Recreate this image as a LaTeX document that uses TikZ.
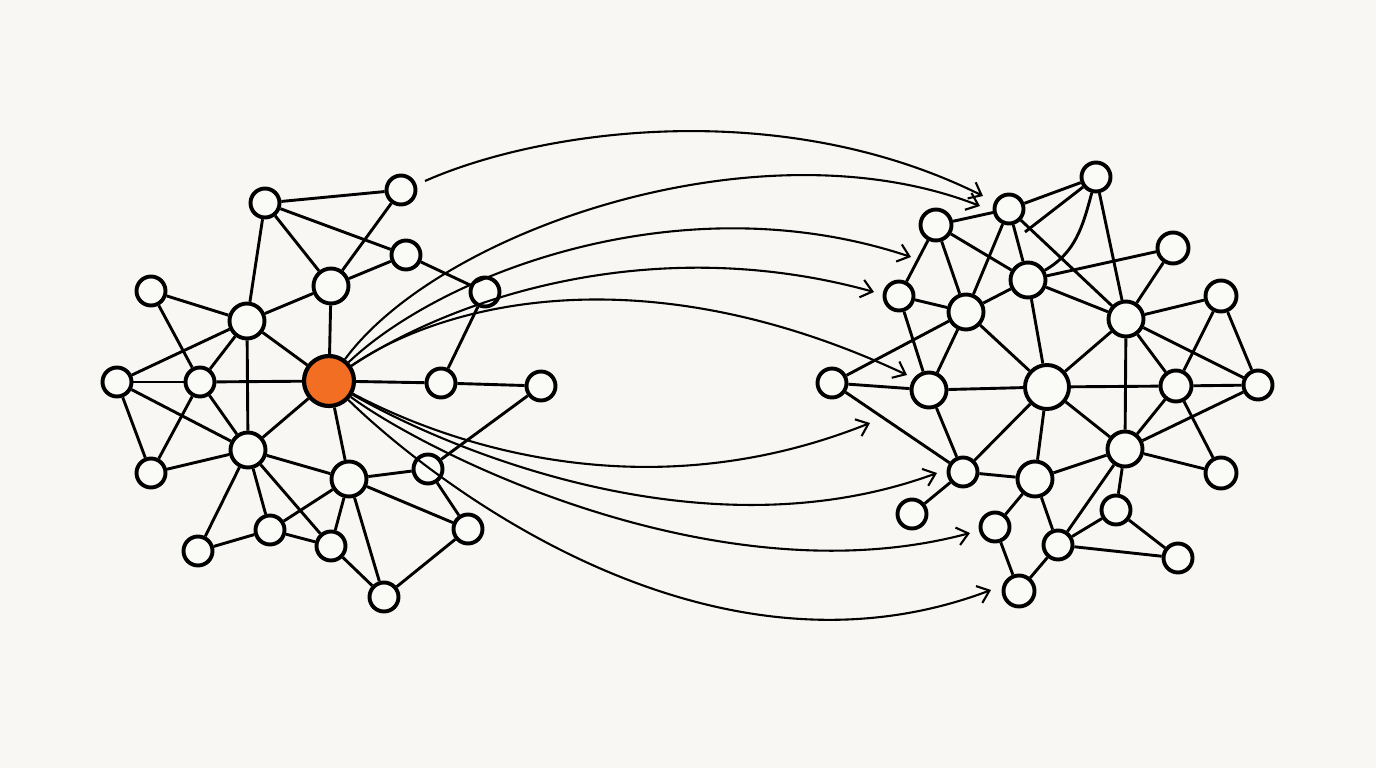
\documentclass[tikz,border=0pt]{standalone}
\usetikzlibrary{arrows.meta}
\definecolor{bgc}{HTML}{F8F7F3}
\definecolor{nfill}{HTML}{FAFAF7}
\definecolor{orng}{HTML}{F26E22}
\pgfdeclarelayer{back}
\pgfdeclarelayer{edges}
\pgfsetlayers{back,edges,main}
\begin{document}
\begin{tikzpicture}[x=1pt,y=-1pt,
  nd/.style={circle,draw=black,line width=3.9pt,fill=nfill,minimum size=29pt,inner sep=0pt},
  ndm/.style={nd,minimum size=31pt},
  ndl/.style={nd,minimum size=35pt},
  ndxl/.style={nd,minimum size=44pt},
  hub/.style={circle,draw=black,line width=4.2pt,fill=orng,minimum size=50pt,inner sep=0pt},
  edge/.style={line width=2.9pt,draw=black},
  flow/.style={line width=2.1pt,draw=black,-{Straight Barb[length=11pt,width=18pt,line width=2.1pt]}}]
\useasboundingbox (0,0) rectangle (1376,768);
\begin{pgfonlayer}{back}
  \fill[bgc] (0,0) rectangle (1376,768);
\end{pgfonlayer}
% ---------- left network ----------
\node[nd] (L1) at (265,203) {};
\node[nd] (L2) at (401,190) {};
\node[nd] (L3) at (406,255) {};
\node[ndl] (L4) at (331,286) {};
\node[nd] (L5) at (485,292) {};
\node[nd] (L6) at (151,291) {};
\node[ndl] (L7) at (247,321) {};
\node[nd] (L8) at (117,382) {};
\node[nd] (L9) at (200,382) {};
\node[hub] (C) at (329,381) {};
\node[nd] (L10) at (441,383) {};
\node[nd] (L11) at (541,386) {};
\node[nd] (L12) at (151,473) {};
\node[ndl] (L13) at (248,450) {};
\node[ndl] (L14) at (349,479) {};
\node[nd] (L15) at (428,469) {};
\node[nd] (L16) at (198,551) {};
\node[nd] (L17) at (270,530) {};
\node[nd] (L18) at (331,546) {};
\node[nd] (L19) at (468,529) {};
\node[nd] (L20) at (384,597) {};
% ---------- right network ----------
\node[nd] (R1) at (1096,177) {};
\node[nd] (R2) at (1009,209) {};
\node[ndm] (R3) at (936,225) {};
\node[ndm] (R4) at (1173,248) {};
\node[ndl] (R5) at (1028,280) {};
\node[nd] (R6) at (899,296) {};
\node[ndl] (R7) at (966,312) {};
\node[ndm] (R8) at (1221,296) {};
\node[ndl] (R9) at (1126,319) {};
\node[nd] (R10) at (832,383) {};
\node[ndl] (R11) at (929,390) {};
\node[ndxl] (R12) at (1047,387) {};
\node[ndm] (R13) at (1176,386) {};
\node[nd] (R14) at (1258,385) {};
\node[ndl] (R15) at (1125,449) {};
\node[nd] (R16) at (963,472) {};
\node[ndl] (R17) at (1035,479) {};
\node[ndm] (R18) at (1221,473) {};
\node[nd] (R19) at (912,514) {};
\node[nd] (R20) at (995,527) {};
\node[nd] (R21) at (1116,510) {};
\node[nd] (R22) at (1058,545) {};
\node[nd] (R23) at (1178,558) {};
\node[ndm] (R24) at (1019,591) {};
\coordinate (stub) at (1025,232);
% ---------- edges ----------
\begin{pgfonlayer}{edges}
\foreach \a/\b in {L1/L2,L1/L4,L1/L3,L1/L7,L2/L4,L4/L3,L3/L5,L4/L7,L4/C,
  L6/L7,L6/L9,L7/L8,L7/L9,L7/L13,L7/C,L8/L9,L8/L12,L8/L13,L9/C,L9/L12,L9/L13,
  L12/L13,L13/C,L13/L14,L13/L16,L13/L17,L13/L18,C/L10,L10/L5,L10/L11,L11/L15,
  C/L14,L14/L15,L14/L17,L14/L18,L14/L20,L14/L19,L15/L19,L16/L17,L17/L18,
  L18/L20,L19/L20}
  \draw[edge] (\a) -- (\b);
\foreach \a/\b in {R2/R1,R3/R2,R1/R9,R1/stub,R2/R7,R2/R5,R2/R9,R3/R6,R3/R7,R3/R5,
  R5/R4,R5/R7,R5/R9,R5/R12,R4/R9,R6/R7,R6/R11,R7/R10,R7/R11,R7/R12,R9/R8,
  R9/R12,R9/R13,R9/R14,R9/R15,R8/R13,R8/R14,R10/R11,R10/R16,R11/R12,R11/R16,
  R12/R13,R12/R15,R12/R16,R12/R17,R13/R14,R13/R15,R13/R18,R14/R15,R15/R18,
  R15/R17,R15/R21,R15/R22,R16/R17,R16/R19,R17/R20,R17/R22,R20/R24,R21/R22,
  R21/R23,R22/R23,R22/R24}
  \draw[edge] (\a) -- (\b);
\draw[edge] (R1) to[out=-105,in=30] (R5);
\end{pgfonlayer}
% ---------- flow arcs ----------
\coordinate (s1) at (425,181);
\coordinate (t1) at (983,196);
\coordinate (t2) at (980,206);
\coordinate (t3) at (911,257);
\coordinate (t4) at (874,292);
\coordinate (t5) at (907,375);
\coordinate (t6) at (870,423);
\coordinate (t7) at (937,473);
\coordinate (t8) at (970,533);
\coordinate (t9) at (991,590);
\draw[flow] (s1) .. controls (540,130) and (780,95) .. (t1);
\draw[flow] (C) .. controls (440,230) and (760,120) .. (t2);
\draw[flow] (C) .. controls (440,275) and (680,180) .. (t3);
\draw[flow] (C) .. controls (450,300) and (650,230) .. (t4);
\draw[flow] (C) .. controls (440,305) and (640,250) .. (t5);
\draw[flow] (C) .. controls (440,440) and (640,515) .. (t6);
\draw[flow] (C) .. controls (440,445) and (700,560) .. (t7);
\draw[flow] (C) .. controls (430,455) and (720,600) .. (t8);
\draw[flow] (C) .. controls (420,470) and (700,700) .. (t9);
\end{tikzpicture}
\end{document}
